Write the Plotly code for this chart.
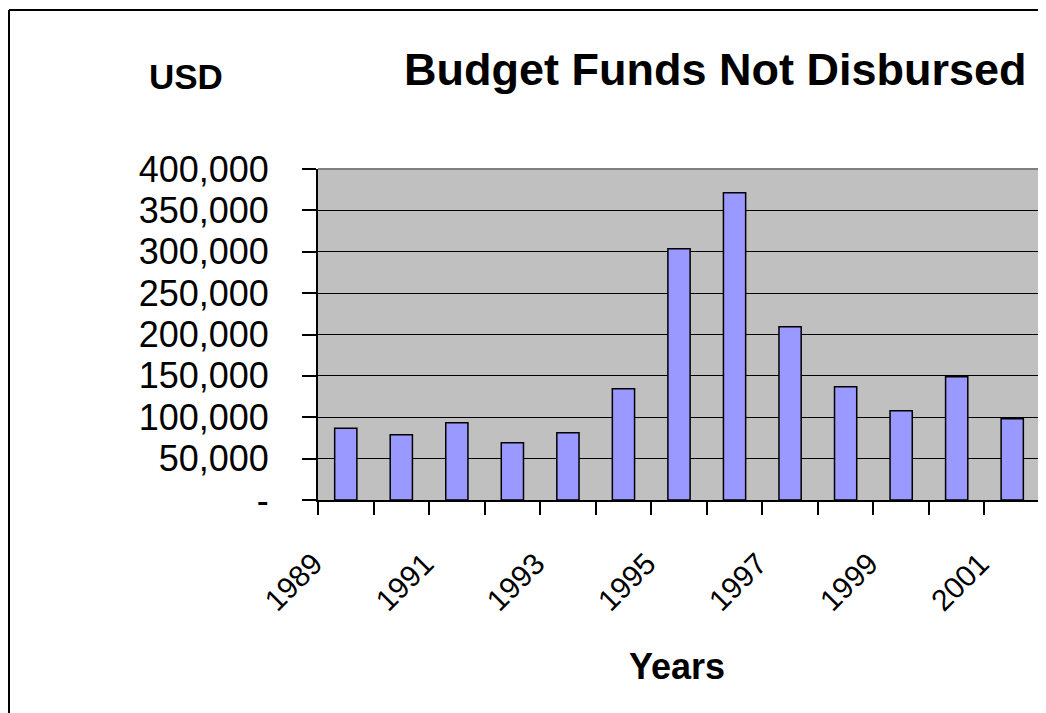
import plotly.graph_objects as go

years = ["1989", "1990", "1991", "1992", "1993", "1994", "1995",
         "1996", "1997", "1998", "1999", "2000", "2001"]
funds_not_disbursed = [86600, 79000, 93400, 69300, 81300, 134500, 303700,
                       371400, 209400, 136900, 107900, 149000, 98300]
x_tick_labels = ["1989", "", "1991", "", "1993", "", "1995",
                 "", "1997", "", "1999", "", "2001"]
y_tick_values = [0, 50000, 100000, 150000, 200000, 250000, 300000, 350000, 400000]
y_tick_labels = ["-", "50,000", "100,000", "150,000", "200,000",
                 "250,000", "300,000", "350,000", "400,000"]

FONT = "Liberation Sans, Arial, sans-serif"

OFF = 8                      # page body margin
W, H = 1046 - OFF, 713 - OFF
# plot area in screen pixels
L, R, T, B = 318, 1040, 169, 500


def px(x):
    return (x - L) / (R - L)


def py(y):
    return (B - y) / (B - T)


fig = go.Figure()
fig.add_trace(go.Bar(
    x=years, y=funds_not_disbursed,
    marker=dict(color="#9999FF", line=dict(color="black", width=1.5)),
))

fig.update_layout(
    width=W, height=H,
    margin=dict(l=L - OFF, r=W - (R - OFF), t=T - OFF, b=H - (B - OFF), autoexpand=False),
    paper_bgcolor="white",
    plot_bgcolor="#C0C0C0",
    bargap=0.6,
    showlegend=False,
    font=dict(family=FONT, color="black"),
    xaxis=dict(
        type="category",
        tickvals=years, ticktext=x_tick_labels,
        tickson="boundaries",
        ticks="outside", ticklen=13, tickwidth=1.5, tickcolor="black",
        tickangle=-45,
        tickfont=dict(size=30, family=FONT, color="black"),
        ticklabelshift=-32, ticklabelstandoff=32,
        showline=True, linecolor="black", linewidth=2,
        showgrid=False, zeroline=False,
        range=[-0.5, 12.5],
        automargin=False,
    ),
    yaxis=dict(
        range=[0, 400000],
        tickvals=y_tick_values, ticktext=y_tick_labels,
        ticks="outside", ticklen=14, tickwidth=1.5, tickcolor="black",
        tickfont=dict(size=36, family=FONT, color="black"),
        ticklabelstandoff=26,
        showline=True, linecolor="black", linewidth=2,
        showgrid=True, gridcolor="black", gridwidth=1,
        zeroline=False,
        automargin=False,
    ),
    shapes=[
        # plot-area top and right border (grey)
        dict(type="line", xref="paper", yref="paper", x0=0, x1=1, y0=1, y1=1,
             line=dict(color="#808080", width=2), layer="above"),
        dict(type="line", xref="paper", yref="paper", x0=1, x1=1, y0=0, y1=1,
             line=dict(color="#808080", width=2), layer="above"),
        # chart frame
        dict(type="line", xref="paper", yref="paper",
             x0=px(9), x1=px(1060), y0=py(10), y1=py(10),
             line=dict(color="black", width=2)),
        dict(type="line", xref="paper", yref="paper",
             x0=px(9), x1=px(9), y0=py(10), y1=py(730),
             line=dict(color="black", width=2)),
    ],
    annotations=[
        dict(text="<b>Budget Funds Not Disbursed</b>", xref="paper", yref="paper",
             x=px(715), y=py(70), xanchor="center", yanchor="middle",
             showarrow=False, font=dict(size=45, family=FONT, color="black")),
        dict(text="<b>USD</b>", xref="paper", yref="paper",
             x=px(186), y=py(76), xanchor="center", yanchor="middle",
             showarrow=False, font=dict(size=35, family=FONT, color="black")),
        dict(text="<b>Years</b>", xref="paper", yref="paper",
             x=px(677), y=py(666), xanchor="center", yanchor="middle",
             showarrow=False, font=dict(size=36, family=FONT, color="black")),
    ],
)

fig.write_html("out.html")
